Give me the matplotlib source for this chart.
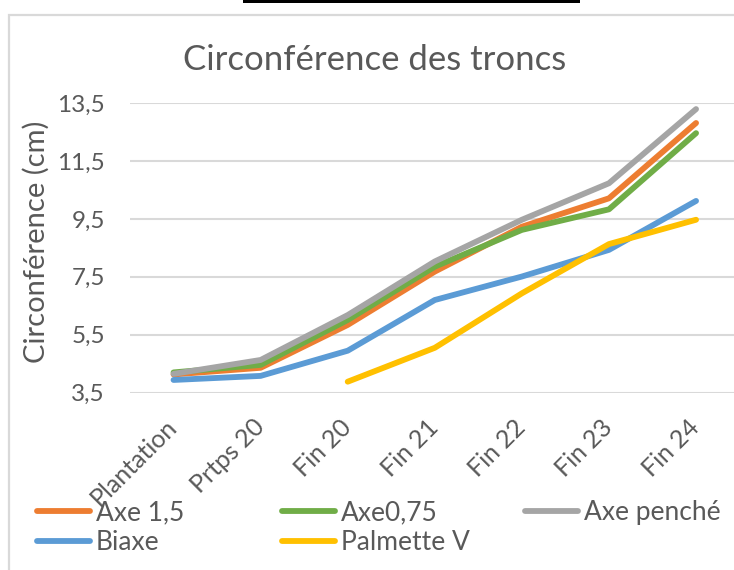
import matplotlib
matplotlib.use("Agg")
import matplotlib.pyplot as plt
from matplotlib.patches import Rectangle

categories = ["Plantation", "Prtps 20", "Fin 20", "Fin 21", "Fin 22", "Fin 23", "Fin 24"]
axe_1_5 = [4.13, 4.36, 5.84, 7.68, 9.23, 10.21, 12.81]
axe_0_75 = [4.20, 4.46, 6.01, 7.85, 9.12, 9.83, 12.46]
axe_penche = [4.15, 4.63, 6.18, 8.03, 9.47, 10.73, 13.29]
biaxe = [3.94, 4.08, 4.95, 6.70, 7.51, 8.43, 10.12]
palmette_v = [None, None, 3.88, 5.05, 6.93, 8.63, 9.47]

series_names = ["Axe 1,5", "Axe0,75", "Axe penché", "Biaxe", "Palmette V"]
series_values = [axe_1_5, axe_0_75, axe_penche, biaxe, palmette_v]
colors = ["#ED7D31", "#70AD47", "#A5A5A5", "#5B9BD5", "#FFC000"]
yticks = [3.5, 5.5, 7.5, 9.5, 11.5, 13.5]
ytick_labels = ["3,5", "5,5", "7,5", "9,5", "11,5", "13,5"]

plt.rcParams['font.family'] = ['Lato', 'DejaVu Sans']
TXT = "#595959"
W, H = 734, 570
fig = plt.figure(figsize=(W / 100, H / 100), dpi=100)
fig.patch.set_facecolor("white")

def fx(px):
    return px / W

def fy(py):
    return 1 - py / H

# chart frame (extends beyond the image at right/bottom)
fig.add_artist(Rectangle((fx(9), fy(600)), fx(800), fy(15) - fy(600), transform=fig.transFigure,
                         fill=False, edgecolor="#D9D9D9", linewidth=1.6))
# black bar at very top (cropped underline from the page)
fig.add_artist(Rectangle((fx(243), fy(3)), fx(580 - 243), fy(0) - fy(3), transform=fig.transFigure,
                         facecolor="black", edgecolor="none"))

left, right, top, bottom = 130, 739.6, 103, 392.7
ax = fig.add_axes([fx(left), fy(bottom), fx(right - left), fy(top) - fy(bottom)])
ax.set_facecolor("none")

x = list(range(len(categories)))
handles = []
for name, vals, c in zip(series_names, series_values, colors):
    xs = [xi for xi, v in zip(x, vals) if v is not None]
    ys = [v for v in vals if v is not None]
    h, = ax.plot(xs, ys, color=c, linewidth=4.2, solid_capstyle="round",
                 solid_joinstyle="round", label=name, zorder=3)
    handles.append(h)

ax.set_xlim(-0.5, len(categories) - 0.5)
ax.set_ylim(3.5, 13.5)
ax.set_yticks(yticks)
ax.set_yticklabels(ytick_labels)
ax.grid(axis="y", color="#D9D9D9", linewidth=1.5, zorder=0)
ax.set_axisbelow(True)
for s in ax.spines.values():
    s.set_visible(False)
ax.tick_params(axis="both", length=0, colors=TXT)
ax.tick_params(axis="y", pad=18, labelsize=17.5)
ax.set_xticks(x)
ax.set_xticklabels(categories, rotation=45, ha="right", va="center",
                   rotation_mode="anchor", fontsize=18)
ax.tick_params(axis="x", pad=22)
for lab in ax.get_xticklabels() + ax.get_yticklabels():
    lab.set_color(TXT)

fig.text(fx(375), fy(60), "Circonférence des troncs", ha="center", va="center",
         fontsize=25, color=TXT)
fig.text(fx(36), fy(242), "Circonférence (cm)", ha="center", va="center",
         rotation=90, fontsize=21, color=TXT)

# legend: three columns
col_x = [37, 282, 525]
cols = [[0, 3], [1, 4], [2]]
for cx, idxs in zip(col_x, cols):
    fig.legend([handles[i] for i in idxs], [series_names[i] for i in idxs],
               loc="upper left", bbox_to_anchor=(fx(cx), fy(500)),
               frameon=False, fontsize=19, labelcolor=TXT,
               handlelength=2.0, handletextpad=0.22, labelspacing=0.2,
               borderpad=0, borderaxespad=0)

fig.savefig("out.png", dpi=100, facecolor="white")
